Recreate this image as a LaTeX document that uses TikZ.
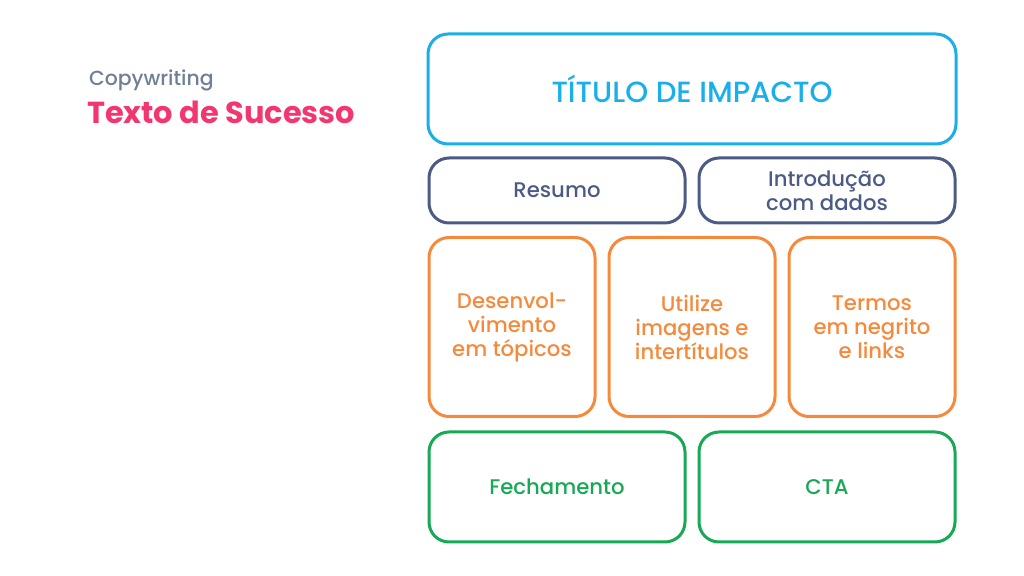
\documentclass[tikz,border=0pt]{standalone}
\usepackage{fontspec}
\setmainfont{Poppins}[UprightFont=* Medium,BoldFont=* Bold]
\usetikzlibrary{positioning}

\definecolor{titlecyan}{HTML}{1AAEEB}
\definecolor{slateblue}{HTML}{4C5B86}
\definecolor{boxorange}{HTML}{F58A3C}
\definecolor{boxgreen}{HTML}{17A955}
\definecolor{headpink}{HTML}{F2366F}
\definecolor{headgray}{HTML}{6F7F94}

\tikzset{
  card/.style={draw,line width=1.5pt,rounded corners=10pt,align=center,inner sep=0pt},
  titlecard/.style={card,draw=titlecyan,text=titlecyan,font=\fontsize{14.6}{17}\selectfont,
    minimum width=264pt,minimum height=55pt},
  introcard/.style={card,draw=slateblue,text=slateblue,font=\fontsize{10.6}{12}\selectfont,
    minimum width=128pt,minimum height=32.5pt},
  bodycard/.style={card,draw=boxorange,text=boxorange,font=\fontsize{10.6}{12}\selectfont,
    minimum width=83pt,minimum height=89.5pt},
  endcard/.style={card,draw=boxgreen,text=boxgreen,font=\fontsize{10.6}{12}\selectfont,
    minimum width=128pt,minimum height=55pt}
}

\begin{document}
\begin{tikzpicture}[x=0.5pt,y=-0.5pt]
  \useasboundingbox (0,0) rectangle (1024,576);
  % heading
  \node[anchor=west,text=headgray,font=\fontsize{10.2}{12}\selectfont] (kicker) at (82,80) {Copywriting};
  \node[anchor=west,text=headpink,font=\bfseries\fontsize{15.2}{18}\selectfont] (headline) at (80,112) {Texto de Sucesso};
  % title
  \node[titlecard] (titulo) at (692,89) {TÍTULO DE IMPACTO};
  % intro row
  \node[introcard] (resumo) at (557,190.5) {Resumo};
  \node[introcard] (intro) at (827,190.5) {Introdução\\com dados};
  % body row
  \node[bodycard] (desenv) at (512,327) {Desenvol-\\vimento\\em tópicos};
  \node[bodycard] (imagens) at (692,327) {Utilize\\imagens e\\intertítulos};
  \node[bodycard] (termos) at (872,327) {Termos\\em negrito\\e links};
  % closing row
  \node[endcard] (fecha) at (557,487) {Fechamento};
  \node[endcard] (cta) at (827,487) {CTA};
\end{tikzpicture}
\end{document}
